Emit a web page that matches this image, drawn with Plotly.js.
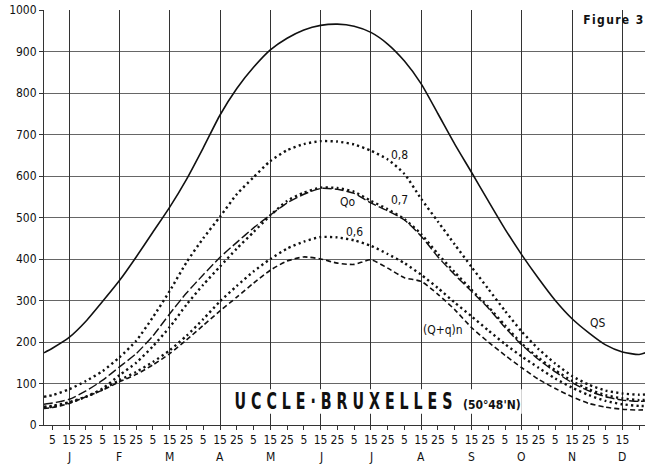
<!DOCTYPE html>
<html>
<head>
<meta charset="utf-8">
<script src="https://cdn.plot.ly/plotly-3.0.1.min.js"></script>
<style>
  html, body { margin: 0; padding: 0; background: #fff; }
  #chart { width: 645px; height: 465px; }
</style>
</head>
<body>
<div id="chart"></div>
<script>
// ---- data ----
const months = ['J','F','M','A','M','J','J','A','S','O','N','D'];
const tickDays = [5, 15, 25];
// each series: [1 Jan, then values on the 5th, 15th, 25th of each month, 31 Dec]
const QS = [174, 185, 211, 250, 298, 348, 405, 465, 525, 592, 668, 747, 811,
  862, 904, 932, 952, 963, 966, 961, 946, 918, 877, 822, 750, 677, 609, 540,
  472, 410, 353, 300, 256, 222, 193, 176, 170, 176];
const R08 = [68, 72, 86, 106, 130, 163, 203, 260, 323, 392, 450, 502, 556,
  597, 636, 662, 677, 684, 683, 676, 661, 640, 605, 545, 490, 435, 381, 328,
  275, 225, 183, 148, 118, 97, 83, 76, 73, 74];
const R07 = [44, 46, 55, 68, 88, 120, 150, 190, 236, 290, 338, 382, 425,
  465, 505, 540, 560, 572, 571, 562, 540, 520, 496, 460, 412, 368, 326, 285,
  240, 196, 162, 132, 106, 86, 72, 64, 60, 61];
const Qo = [50, 53, 62, 82, 108, 140, 172, 215, 268, 318, 362, 404, 440,
  475, 506, 535, 556, 570, 568, 558, 535, 516, 494, 455, 405, 362, 322, 282,
  235, 193, 158, 128, 102, 82, 68, 60, 57, 58];
const R06 = [42, 44, 54, 68, 86, 108, 128, 152, 180, 215, 255, 298, 335,
  370, 400, 425, 442, 453, 452, 445, 432, 412, 390, 362, 330, 295, 262, 228,
  195, 165, 138, 112, 90, 72, 58, 50, 46, 46];
const QqN = [40, 42, 52, 68, 84, 104, 122, 145, 172, 205, 240, 275, 308,
  342, 373, 395, 405, 400, 390, 387, 398, 378, 355, 346, 315, 278, 235, 200,
  168, 138, 110, 88, 68, 52, 43, 38, 36, 37];
const yTicks = [0, 100, 200, 300, 400, 500, 600, 700, 800, 900, 1000];

// ---- x positions (month units: Jan 1 = 0, Jan 15 = 0.5, ...) ----
const decX = [], decText = [];
months.forEach((m, i) => tickDays.forEach(d => { decX.push(i + d / 30); decText.push(String(d)); }));
const X = [0].concat(decX, [12]);
const midX = months.map((m, i) => i + 0.5);

const FONT = '"DejaVu Sans Condensed", "Liberation Sans Narrow", "DejaVu Sans", sans-serif';
const ink = '#111';

function tr(y, dash, width, name) {
  return { x: X, y: y, type: 'scatter', mode: 'lines', name: name,
    line: { color: ink, width: width, dash: dash, shape: 'spline', smoothing: 0.6 },
    hoverinfo: 'skip', xaxis: 'x', yaxis: 'y' };
}

const data = [
  tr(QS, 'solid', 1.6, 'QS'),
  tr(R08, '2.2px,3.2px', 2.4, '0,8'),
  tr(R07, '2.2px,3.2px', 2.4, '0,7'),
  tr(Qo, '9px,3px', 1.4, 'Qo'),
  tr(R06, '2.2px,3.2px', 2.4, '0,6'),
  tr(QqN, '5px,3px', 1.6, '(Q+q)n'),
  // carrier for the vertical grid at the 15th of each month
  { x: midX, y: midX.map(() => null), xaxis: 'x2', yaxis: 'y', type: 'scatter', mode: 'lines', showlegend: false, hoverinfo: 'skip' }
];

const TITLE = 'U C C L E · B R U X E L L E S';
const FIG = 'Figure 3';

const annotations = [];
months.forEach((m, i) => annotations.push({
  x: midX[i], xref: 'x', y: -0.078, yref: 'paper', text: m, showarrow: false,
  font: { family: FONT, size: 12, color: ink }, xanchor: 'center', yanchor: 'middle'
}));
const labels = [
  ['QS', 11.0, 246], ['0,8', 7.06, 650], ['0,7', 7.06, 542],
  ['Qo', 6.04, 537], ['0,6', 6.18, 465], ['(Q+q)n', 7.93, 229]
];
labels.forEach(l => annotations.push({ x: l[1], y: l[2], xref: 'x', yref: 'y', text: l[0],
  showarrow: false, font: { family: FONT, size: 12, color: ink }, xanchor: 'center', yanchor: 'middle' }));
annotations.push({ x: 0.947, y: 0.976, xref: 'paper', yref: 'paper', text: FIG,
  showarrow: false, font: { family: FONT, size: 12, color: ink, weight: 'bold' }, xanchor: 'center', yanchor: 'middle' });
annotations.push({ x: 0.499, y: 0.058, xref: 'paper', yref: 'paper', text: TITLE,
  showarrow: false, font: { family: FONT, size: 14, color: ink, weight: 'bold' },
  xanchor: 'center', yanchor: 'middle' });
annotations.push({ x: 0.745, y: 0.049, xref: 'paper', yref: 'paper', text: "(50°48'N)",
  showarrow: false, font: { family: FONT, size: 12, color: ink, weight: 'bold' }, xanchor: 'center', yanchor: 'middle' });

const layout = {
  width: 645, height: 465,
  margin: { l: 44, r: 0, t: 10, b: 40 },
  paper_bgcolor: '#fff', plot_bgcolor: '#fff',
  showlegend: false,
  font: { family: FONT, size: 12, color: ink },
  xaxis: {
    range: [0, 11.95], tickmode: 'array', tickvals: decX, ticktext: decText,
    showgrid: false, zeroline: false, ticks: 'outside', ticklen: 4, tickcolor: '#333',
    showline: true, linecolor: '#333', linewidth: 1,
    tickfont: { family: FONT, size: 12, color: ink }
  },
  xaxis2: {
    overlaying: 'x', matches: 'x', range: [0, 11.95], tickmode: 'array', tickvals: midX,
    showgrid: true, gridcolor: '#333', gridwidth: 1, showticklabels: false, ticks: '',
    zeroline: false, showline: false
  },
  yaxis: {
    range: [0, 1000], tickmode: 'array', tickvals: yTicks,
    showgrid: true, gridcolor: '#666', gridwidth: 1, zeroline: false,
    ticks: 'outside', ticklen: 4, tickcolor: '#333',
    showline: true, linecolor: '#333', linewidth: 1,
    tickfont: { family: FONT, size: 12, color: ink }
  },
  // white band behind the station name (the grid is interrupted there)
  shapes: [{ type: 'rect', xref: 'paper', yref: 'paper', x0: 0.305, x1: 0.795, y0: 0.027, y1: 0.086,
    fillcolor: '#fff', line: { width: 0 }, layer: 'above' }],
  annotations: annotations
};

Plotly.newPlot('chart', data, layout, { staticPlot: true, displayModeBar: false }).then(() => {
  document.querySelectorAll('#chart text.annotation-text').forEach(t => {
    if (t.textContent === TITLE) {
      // tall, condensed, letter-spaced station name as in the printed figure
      t.setAttribute('textLength', '218');
      t.setAttribute('lengthAdjust', 'spacingAndGlyphs');
      const bb = t.getBBox();
      const cy = bb.y + bb.height / 2;
      const prev = t.getAttribute('transform') || '';
      t.setAttribute('transform', prev + ' translate(0,' + cy + ') scale(1,1.6) translate(0,' + (-cy) + ')');
    } else if (t.textContent === FIG) {
      t.setAttribute('textLength', '60');
      t.setAttribute('lengthAdjust', 'spacing');
    }
  });
});
</script>
</body>
</html>
